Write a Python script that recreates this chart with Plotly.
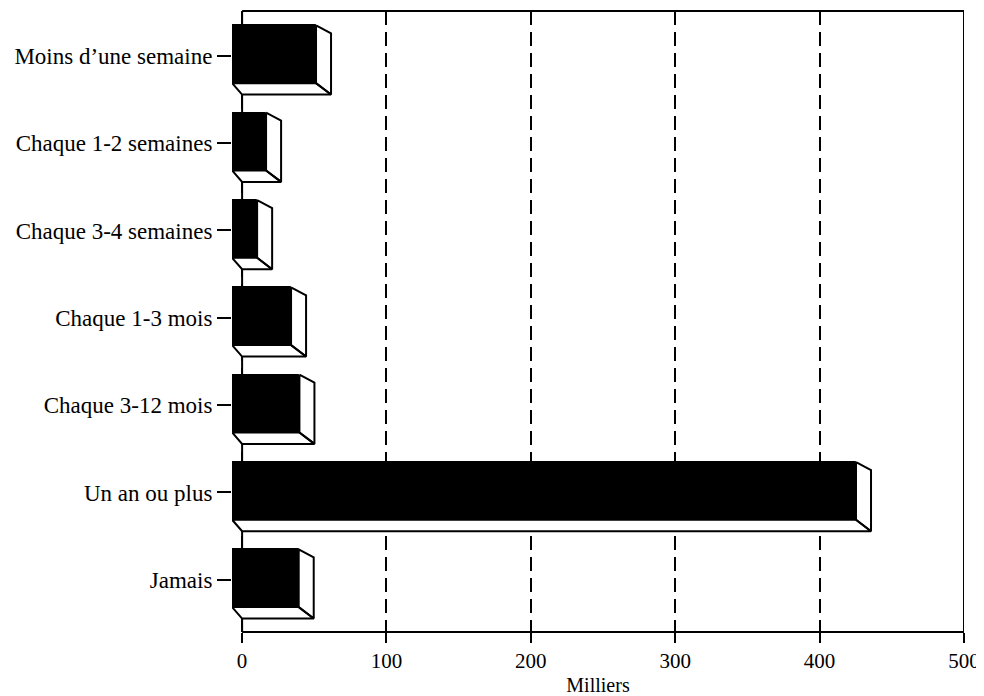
import plotly.graph_objects as go

# ---- data ----
categories = ["Moins d\u2019une semaine", "Chaque 1-2 semaines", "Chaque 3-4 semaines",
              "Chaque 1-3 mois", "Chaque 3-12 mois", "Un an ou plus", "Jamais"]
values = [61.6, 27.0, 20.8, 44.3, 50.1, 435.6, 49.6]   # milliers
x_ticks = [0, 100, 200, 300, 400, 500]
x_title = "Milliers"

# ---- 3D geometry (in axis units) ----
DX_R = 10.4      # right side depth
DX_L = 6.9       # left (bottom face) depth
F_TOP = -0.348   # front face top offset
F_BOT = 0.313    # front face bottom offset
B_TOP = -0.257   # back face top offset
B_BOT = 0.444    # back face bottom offset

pos = list(range(len(categories)))
FONT = "Liberation Serif, Times New Roman, serif"

fig = go.Figure()

# front faces (black bars)
fig.add_trace(go.Bar(
    y=pos, x=[v - DX_R + DX_L for v in values], base=-DX_L, orientation="h",
    width=F_BOT - F_TOP, offset=F_TOP,
    marker=dict(color="black", line=dict(color="black", width=1)),
    hoverinfo="skip", showlegend=False))

# side & bottom faces (white with black outline)
xs, ys = [], []
for i, v in zip(pos, values):
    xs += [v - DX_R, v, v, v - DX_R, v - DX_R, None]
    ys += [i + F_TOP, i + B_TOP, i + B_BOT, i + F_BOT, i + F_TOP, None]
    xs += [-DX_L, v - DX_R, v, 0, -DX_L, None]
    ys += [i + F_BOT, i + F_BOT, i + B_BOT, i + B_BOT, i + F_BOT, None]
fig.add_trace(go.Scatter(
    x=xs, y=ys, mode="lines", fill="toself", fillcolor="white",
    line=dict(color="black", width=2), hoverinfo="skip", showlegend=False,
    cliponaxis=False))

# frame (behind bars, above grid)
lw = dict(color="black", width=2)
fig.add_shape(type="line", xref="x", yref="paper", x0=0, x1=0, y0=0, y1=1, line=lw, layer="between")
fig.add_shape(type="line", xref="x", yref="paper", x0=x_ticks[-1], x1=x_ticks[-1], y0=0, y1=1, line=lw, layer="between")
fig.add_shape(type="line", xref="x", yref="paper", x0=0, x1=x_ticks[-1], y0=0, y1=0, line=lw, layer="between")
fig.add_shape(type="line", xref="x", yref="paper", x0=0, x1=x_ticks[-1], y0=1, y1=1, line=lw, layer="between")

fig.update_xaxes(
    range=[-7.0, 500], tickvals=x_ticks, ticks="outside", ticklen=10, tickwidth=2,
    tickcolor="black", showline=False, zeroline=False,
    showgrid=True, gridcolor="black", gridwidth=2, griddash="14px,7px",
    tickfont=dict(family=FONT, size=21, color="black"),
    title=dict(text=x_title, font=dict(family=FONT, size=20, color="black"), standoff=6))
fig.update_yaxes(
    range=[6.598, -0.513], tickvals=pos, ticktext=categories, ticks="outside",
    ticklen=14, tickwidth=1.5, tickcolor="black", showline=False, zeroline=False,
    showgrid=False, tickfont=dict(family=FONT, size=23, color="black"))

# page body has an 8px margin: compensate so the plot lands where the reference has it
fig.update_layout(
    width=976, height=688, margin=dict(l=224, r=20, t=3, b=53),
    paper_bgcolor="white", plot_bgcolor="white", bargap=0,
    font=dict(family=FONT, color="black"))

fig.write_html("out.html")
